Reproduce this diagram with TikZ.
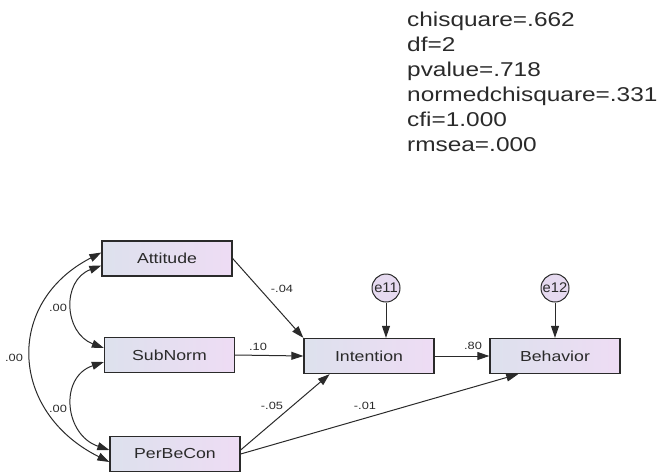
\documentclass[tikz,border=0pt]{standalone}
\usepackage{fontspec}
\usepackage{graphicx}
\setmainfont{Liberation Sans}
\usetikzlibrary{arrows.meta,calc}
\definecolor{boxL}{HTML}{DDE1ED}
\definecolor{boxR}{HTML}{EEDCF4}
\definecolor{errF}{HTML}{E6DAF0}
\definecolor{ink}{HTML}{2A2A2A}
\newcommand{\sx}[2][1.22]{\scalebox{#1}[1]{#2}}
\begin{document}
\begin{tikzpicture}[x=1pt,y=-1pt,
  var/.style={draw=ink, line width=1.3pt, left color=boxL, right color=boxR,
    minimum width=130pt, minimum height=35pt, inner sep=0pt,
    font=\fontsize{14.5}{16}\selectfont, text=ink},
  err/.style={draw=ink, line width=1pt, fill=errF, circle, minimum size=28pt,
    inner sep=0pt, font=\fontsize{14}{15}\selectfont, text=ink},
  reg/.style={draw=ink, line width=1pt, -{Triangle[length=12pt,width=8pt]}},
  cov/.style={draw=ink, line width=1pt, {Triangle[length=12pt,width=8pt]}-{Triangle[length=12pt,width=8pt]}},
  coef/.style={font=\fontsize{10.5}{11}\selectfont, text=ink, inner sep=0pt},
  stat/.style={anchor=base west, font=\fontsize{20}{24}\selectfont, text=ink, inner sep=0pt}]
\useasboundingbox (0,0) rectangle (661,471);

% fit statistics
\node[stat] (s1) at (407,26)  {\sx{chisquare=.662}};
\node[stat] (s2) at (407,51)  {\sx{df=2}};
\node[stat] (s3) at (407,76)  {\sx{pvalue=.718}};
\node[stat] (s4) at (407,101) {\sx{normedchisquare=.331}};
\node[stat] (s5) at (407,126) {\sx{cfi=1.000}};
\node[stat] (s6) at (407,151) {\sx{rmsea=.000}};

% variables
\node[var] (att) at (167,258.5) {\sx{Attitude}};
\node[var] (sub) at (169.5,355) {\sx{SubNorm}};
\node[var] (pbc) at (175,454)   {\sx{PerBeCon}};
\node[var] (int) at (369,356)   {\sx{Intention}};
\node[var] (beh) at (555,356)   {\sx{Behavior}};
\node[err] (e11) at (386,288)   {\sx[1.05]{e11}};
\node[err] (e12) at (555,288)   {\sx[1.05]{e12}};

% regression paths
\draw[reg] (att.east) -- (int.north west);
\draw[reg] (sub.east) -- (int.west);
\draw[reg] ([yshift=4pt]pbc.east) -- ($(int.south west)!0.2!(int.south east)$);
\draw[reg] (pbc.east) -- ($(beh.south west)!0.22!(beh.south east)$);
\draw[reg] (int.east) -- (beh.west);
\draw[reg] (e11) -- (e11 |- int.north);
\draw[reg] (e12) -- (beh.north);

% covariances
\draw[cov] ([yshift=-7pt]att.west) .. controls +(-40,15) and +(-40,-15) .. ([yshift=7pt]sub.west);
\draw[cov] ([yshift=-7pt]sub.west) .. controls +(-45,15) and +(-45,-15) .. ([yshift=4pt]pbc.west);
\draw[cov] ([yshift=6pt]att.west) .. controls +(-97,50) and +(-100,-50) .. ([yshift=-8pt]pbc.west);

% coefficients
\node[coef] (c1) at (58,308)  {\sx{.00}};
\node[coef] (c2) at (14,358)  {\sx{.00}};
\node[coef] (c3) at (58,409)  {\sx{.00}};
\node[coef] (c4) at (282,289) {\sx{-.04}};
\node[coef] (c5) at (258,347) {\sx{.10}};
\node[coef] (c6) at (272,406) {\sx{-.05}};
\node[coef] (c7) at (365,406) {\sx{-.01}};
\node[coef] (c8) at (473,346) {\sx{.80}};
\end{tikzpicture}
\end{document}
